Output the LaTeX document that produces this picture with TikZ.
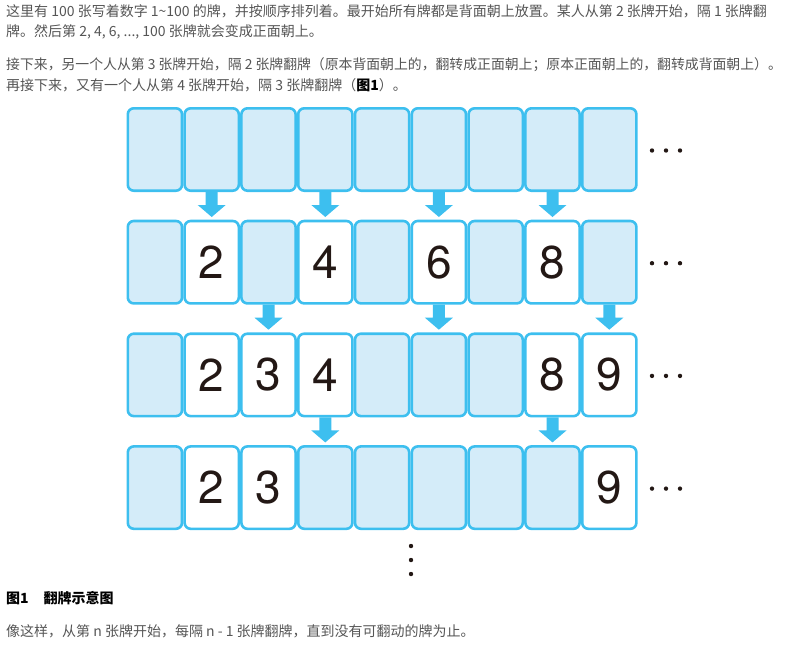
\documentclass[tikz,border=0pt]{standalone}
\usepackage{fontspec}
\setmainfont{Noto Sans CJK SC}
\newfontfamily\digitfont{TeX Gyre Heros}
\usetikzlibrary{calc}
\definecolor{cardline}{HTML}{3DBFEF}
\definecolor{cardfill}{HTML}{D4ECF9}
\definecolor{txtgray}{HTML}{555555}
\definecolor{ink}{HTML}{231815}
\tikzset{
  cardback/.style={draw=cardline, line width=2.6pt, rounded corners=6pt,
    minimum width=54.2pt, minimum height=82.4pt, inner sep=0pt, fill=cardfill},
  cardface/.style={cardback, fill=white, font=\digitfont\fontsize{46}{46}\selectfont, text=ink},
  para/.style={anchor=base west, inner sep=0pt, text=txtgray, font=\fontsize{14}{14}\selectfont},
  flip/.style={fill=cardline},
  dotmark/.style={fill=ink, circle, inner sep=0pt, minimum size=4.4pt},
}
\begin{document}
\begin{tikzpicture}[x=1pt,y=-1pt]
\useasboundingbox (0,0) rectangle (785,649);
% text
\node[para] (t1) at (6,16) {这里有 100 张写着数字 1\textasciitilde100 的牌，并按顺序排列着。最开始所有牌都是背面朝上放置。某人从第 2 张牌开始，隔 1 张牌翻};
\node[para] (t2) at (6,36) {牌。然后第 2, 4, 6, ..., 100 张牌就会变成正面朝上。};
\node[para, font=\fontsize{13.85}{14}\selectfont] (t3) at (6,69) {接下来，另一个人从第 3 张牌开始，隔 2 张牌翻牌（原本背面朝上的，翻转成正面朝上；原本正面朝上的，翻转成背面朝上）\makebox[0.45em][l]{。}};
\node[para] (t4) at (6,90) {再接下来，又有一个人从第 4 张牌开始，隔 3 张牌翻牌（{\bfseries\color{black}图1}）。};
% cards
\foreach \r/\row in {1/{1/cardback/{},2/cardback/{},3/cardback/{},4/cardback/{},5/cardback/{},6/cardback/{},7/cardback/{},8/cardback/{},9/cardback/{}},
                     2/{1/cardback/{},2/cardface/2,3/cardback/{},4/cardface/4,5/cardback/{},6/cardface/6,7/cardback/{},8/cardface/8,9/cardback/{}},
                     3/{1/cardback/{},2/cardface/2,3/cardface/3,4/cardface/4,5/cardback/{},6/cardback/{},7/cardback/{},8/cardface/8,9/cardface/9},
                     4/{1/cardback/{},2/cardface/2,3/cardface/3,4/cardback/{},5/cardback/{},6/cardback/{},7/cardback/{},8/cardback/{},9/cardface/9}} {
  \foreach \i/\sty/\lab in \row {
    \node[\sty] (c\r-\i) at ({126.5+56.8*(\i-0.5)}, {149.5+112.7*(\r-1)}) {\lab};
  }
  \foreach \k in {1,2,3}
    \node[dotmark] (d\r-\k) at ({638+14*\k}, {150.5+112.7*(\r-1)}) {};
}
% flip arrows
\foreach \r/\i in {1/2,1/4,1/6,1/8,2/3,2/6,2/9,3/4,3/8} {
  \fill[flip] ($(c\r-\i.south)+(-6,0)$) -- ++(12,0) -- ++(0,13) -- ++(8,0)
     -- ++(-14,12) -- ++(-14,-12) -- ++(8,0) -- cycle;
}
% vertical dots
\foreach \k in {1,2,3}
  \node[dotmark] (v\k) at (411, {532+14*\k}) {};
% caption and last line
\node[para, text=black, font=\fontsize{14}{14}\selectfont\bfseries] (cap) at (6,603) {图1\hspace{15pt}翻牌示意图};
\node[para] (t5) at (6,636) {像这样，从第 n 张牌开始，每隔 n - 1 张牌翻牌，直到没有可翻动的牌为止。};
\end{tikzpicture}
\end{document}
